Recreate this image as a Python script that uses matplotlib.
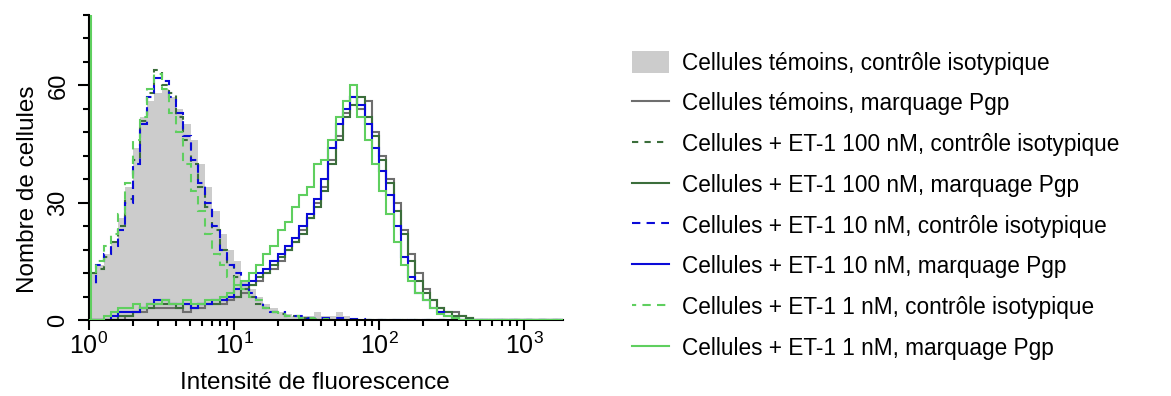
import numpy as np
import matplotlib
matplotlib.use("Agg")
import matplotlib.pyplot as plt
from matplotlib.lines import Line2D
from matplotlib.patches import Patch

plt.rcParams['font.family'] = ['Liberation Sans', 'DejaVu Sans']
plt.rcParams['mathtext.fontset'] = 'custom'
plt.rcParams['mathtext.rm'] = 'Liberation Sans'
plt.rcParams['mathtext.it'] = 'Liberation Sans:italic'

# ---------------- data (counts per 0.05-decade channel, from 10^0 upward) ----------------
labels = [
    "Cellules témoins, contrôle isotypique",
    "Cellules témoins, marquage Pgp",
    "Cellules + ET-1 100 nM, contrôle isotypique",
    "Cellules + ET-1 100 nM, marquage Pgp",
    "Cellules + ET-1 10 nM, contrôle isotypique",
    "Cellules + ET-1 10 nM, marquage Pgp",
    "Cellules + ET-1 1 nM, contrôle isotypique",
    "Cellules + ET-1 1 nM, marquage Pgp",
]

ctrl_iso = [12, 14, 17, 20, 26, 34, 44, 52, 56, 58,
            59, 57, 54, 50, 46, 40, 34, 28, 22, 18,
            15, 10, 8, 6, 4, 3, 2, 1.5, 1, 1,
            1, 2, 1, 1, 2, 1, 0.5, 0, 0, 0,
            0, 0, 0, 0, 0, 0, 0, 0, 0, 0,
            0, 0, 0, 0, 0, 0, 0, 0, 0, 0,
            0, 0, 0, 0, 0, 0]
ctrl_iso_first_channel = 45

ctrl_pgp = [0, 0, 0, 0, 0, 1, 2, 2, 3, 3,
            3, 3, 3, 2, 3, 3, 4, 4, 4, 5,
            6, 7, 9, 10, 12, 13, 15, 18, 20, 23,
            26, 30, 34, 41, 47, 53, 57, 54, 56, 48,
            42, 36, 30, 23, 17, 12, 8, 5, 3, 2,
            2, 1, 0.5, 0, 0, 0, 0, 0, 0, 0,
            0, 0, 0, 0, 0, 0]

et100_iso = [12, 13, 16, 20, 24, 31, 41, 51, 58, 64,
             60, 58, 52, 46, 40, 34, 29, 23, 18, 14,
             11, 8, 6, 4, 3, 2, 1.5, 1, 1, 0.5,
             0.5, 0, 0, 0, 0, 0, 0, 0, 0, 0,
             0, 0, 0, 0, 0, 0, 0, 0, 0, 0,
             0, 0, 0, 0, 0, 0, 0, 0, 0, 0,
             0, 0, 0, 0, 0, 0]

et100_pgp = [0, 0, 0, 0, 1, 1, 2, 3, 3, 4,
             4, 4, 3, 4, 3, 4, 4, 4, 5, 6,
             6, 8, 9, 11, 12, 14, 16, 18, 20, 22,
             26, 29, 33, 40, 46, 52, 55, 57, 52, 47,
             41, 35, 28, 22, 15, 10, 7, 5, 3, 2,
             1, 1, 0.5, 0, 0, 0, 0, 0, 0, 0,
             0, 0, 0, 0, 0, 0]

et10_iso = [9, 14, 17, 19, 23, 30, 40, 50, 57, 62,
            61, 57, 53, 47, 41, 35, 30, 24, 18, 14,
            12, 9, 7, 5, 3, 2, 2, 1, 1, 1,
            0.5, 0.4, 0.4, 0.4, 0.4, 0.3, 0.3, 0.3, 0, 0,
            0, 0, 0, 0, 0, 0, 0, 0, 0, 0,
            0, 0, 0, 0, 0, 0, 0, 0, 0, 0,
            0, 0, 0, 0, 0, 0]

et10_pgp = [0, 0, 0, 1, 2, 2, 2, 3, 4, 5,
            5, 4, 4, 4, 3, 4, 4, 5, 5, 6,
            8, 9, 10, 12, 13, 15, 17, 19, 21, 24,
            27, 31, 36, 44, 50, 54, 57, 55, 50, 44,
            38, 32, 24, 16, 11, 7, 5, 3, 2, 1,
            0.5, 0, 0, 0, 0, 0, 0, 0, 0, 0,
            0, 0, 0, 0, 0, 0]

et1_iso = [12, 15, 19, 22, 27, 35, 46, 52, 59, 63,
           59, 53, 48, 40, 33, 28, 22, 17, 14, 11,
           9, 8, 6, 5, 3, 2, 1.5, 1, 1, 0.5,
           0.5, 0.3, 0.3, 0, 0, 0, 0, 0, 0, 0,
           0, 0, 0, 0, 0, 0, 0, 0, 0, 0,
           0, 0, 0, 0, 0, 0, 0, 0, 0, 0,
           0, 0, 0, 0, 0, 0]

et1_pgp = [0, 0, 1, 2, 3, 3, 4, 3, 4, 4,
           5, 4, 4, 5, 4, 4, 5, 5, 6, 7,
           9, 10, 12, 14, 17, 19, 23, 25, 29, 32,
           34, 40, 41, 46, 52, 56, 60, 52, 46, 40,
           33, 27, 20, 14, 10, 7, 5, 3, 1.5, 1,
           0.5, 0, 0, 0, 0, 0, 0, 0, 0, 0,
           0, 0, 0, 0, 0, 0]
et1_pgp_first_channel = 100

y_ticks = [0, 30, 60]

# ---------------- styles ----------------
c_fill = "#cccccc"
c_grey = "#6e6e6e"
c_dgreen = "#3b6e3b"
c_blue = "#0a0ad8"
c_lgreen = "#5fcf5f"
lw = 1.5

fig = plt.figure(figsize=(11.71, 3.96), dpi=100)
ax = fig.add_axes([89 / 1171, 1 - 320 / 396, (563 - 89) / 1171, (320 - 15) / 396])

n = len(ctrl_iso)
edges = 10 ** (np.arange(n + 1) * 0.05)

ax.stairs(ctrl_iso, edges, fill=True, color=c_fill, linewidth=0, zorder=1)
ax.stairs([ctrl_iso_first_channel], [1, 10 ** 0.02], fill=True, color=c_fill, linewidth=0, zorder=1)
ax.stairs(ctrl_pgp, edges, color=c_grey, lw=lw, zorder=2)
ax.stairs(et100_iso, edges, color=c_dgreen, lw=lw, linestyle=(0, (3, 3)), zorder=2)
ax.stairs(et100_pgp, edges, color=c_dgreen, lw=lw, zorder=2)
ax.stairs(et10_iso, edges, color=c_blue, lw=lw, linestyle=(0, (4, 3)), zorder=2)
ax.stairs(et10_pgp, edges, color=c_blue, lw=lw, zorder=2)
ax.stairs(et1_iso, edges, color=c_lgreen, lw=lw, linestyle=(2, (4, 3)), zorder=2)
ax.stairs(et1_pgp, edges, color=c_lgreen, lw=lw, zorder=3)
ax.vlines(10 ** 0.012, 0, et1_pgp_first_channel, color=c_lgreen, lw=lw, zorder=3)

ax.set_xscale('log')
ax.set_xlim(1, 10 ** ((563 - 89) / 145))
ax.set_ylim(0, 78)

for s in ['top', 'right']:
    ax.spines[s].set_visible(False)
for s in ['left', 'bottom']:
    ax.spines[s].set_linewidth(1.5)
    ax.spines[s].set_color('black')
    ax.spines[s].set_zorder(2.5)

ax.set_xticks([1, 10, 100, 1000])
ax.xaxis.set_minor_locator(matplotlib.ticker.LogLocator(base=10, subs=np.arange(2, 10)))
ax.xaxis.set_minor_formatter(matplotlib.ticker.NullFormatter())
ax.tick_params(axis='x', which='major', length=7, width=1.5, labelsize=18, pad=2)
ax.tick_params(axis='x', which='minor', length=4, width=1.5)

ax.set_yticks(y_ticks)
ax.set_yticks(np.arange(0, 79, 6), minor=True)
ax.tick_params(axis='y', which='major', length=8, width=1.5, labelsize=17, pad=6)
ax.tick_params(axis='y', which='minor', length=4, width=1.5)
for t in ax.get_yticklabels():
    t.set_rotation(90)
    t.set_va('center')

ax.set_ylabel("Nombre de cellules", fontsize=17.5)
ax.yaxis.set_label_coords(-0.129, 0.43)
ax.set_xlabel("Intensité de fluorescence", fontsize=17.5)
ax.xaxis.set_label_coords((315 - 89) / 474, -(383 - 320) / 305)
ax.xaxis.label.set_va('center')
ax.yaxis.label.set_va('center')

handles = [
    Patch(facecolor=c_fill, edgecolor='none'),
    Line2D([], [], color=c_grey, lw=lw),
    Line2D([], [], color=c_dgreen, lw=lw, linestyle=(0, (3, 3))),
    Line2D([], [], color=c_dgreen, lw=lw),
    Line2D([], [], color=c_blue, lw=lw, linestyle=(0, (4, 3))),
    Line2D([], [], color=c_blue, lw=lw),
    Line2D([], [], color=c_lgreen, lw=lw, linestyle=(2, (4, 3))),
    Line2D([], [], color=c_lgreen, lw=lw),
]
fig.legend(handles, labels, loc='upper left', bbox_to_anchor=(632 / 1171, 1 - 51 / 396),
           frameon=False, fontsize=16.3, handlelength=1.64, handleheight=1.1,
           handletextpad=0.55, labelspacing=0.76, borderpad=0, borderaxespad=0)

fig.savefig("out.png", dpi=100)
